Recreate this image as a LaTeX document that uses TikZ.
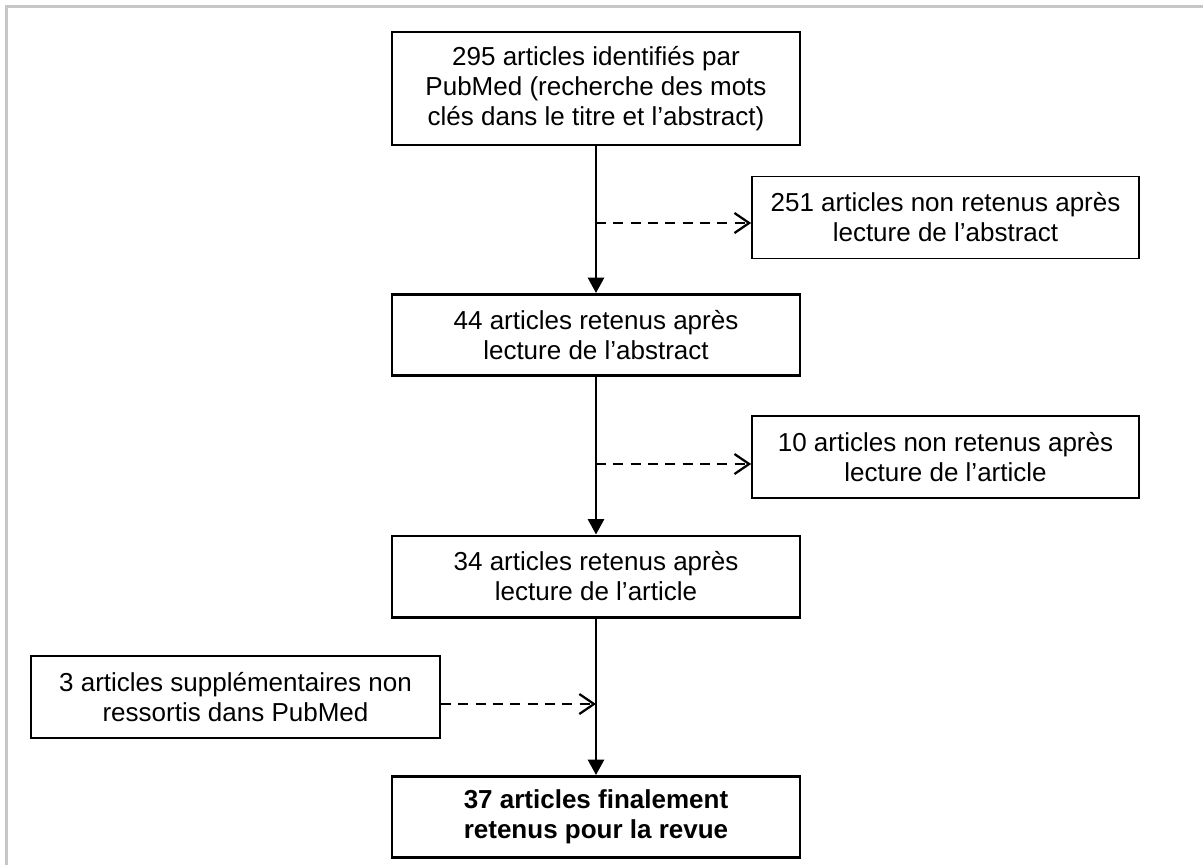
\documentclass[tikz,border=0pt]{standalone}
\usepackage{fontspec}
\setmainfont{Liberation Sans}
\usetikzlibrary{arrows.meta}

\tikzset{
  box/.style={draw=black, align=center, inner sep=0pt, fill=white,
    font=\fontsize{19.5pt}{22.5pt}\selectfont},
  mainbox/.style={box, line width=2pt, minimum width=306pt, minimum height=61pt},
  sidebox/.style={box, line width=1.3pt, minimum width=290.25pt, minimum height=61.5pt},
  flow/.style={line width=1.9pt, -{Triangle[length=11.5pt, width=12pt]}},
  sideflow/.style={line width=1.9pt, dash pattern=on 7.5pt off 5.5pt,
    -{Straight Barb[length=11pt, width=15pt, line width=1.7pt]}},
  frame/.style={draw=black!22, line width=1.8pt}
}

\begin{document}
\begin{tikzpicture}[x=0.75pt, y=-0.75pt]
  % page extent and outer frame
  \useasboundingbox (0,0) rectangle (1203,865);
  \draw[frame] (1203,6.5) -- (6.5,6.5) -- (6.5,865);

  % main column
  \node[mainbox, minimum height=84.75pt] (b1) at (596,88.5)
    {295 articles identifiés par\\PubMed (recherche des mots\\clés dans le titre et l’abstract)};
  \node[mainbox] (b3) at (596,335)
    {44 articles retenus après\\lecture de l’abstract};
  \node[mainbox] (b5) at (596,576.5)
    {34 articles retenus après\\lecture de l’article};
  \node[mainbox] (b7) at (596,817)
    {\bfseries 37 articles finalement\\\bfseries retenus pour la revue};

  % side boxes
  \node[sidebox] (b2) at (945.5,217.5)
    {251 articles non retenus après\\lecture de l’abstract};
  \node[sidebox] (b4) at (945.5,457)
    {10 articles non retenus après\\lecture de l’article};
  \node[sidebox, minimum width=306.75pt] (b6) at (235.5,697)
    {3 articles supplémentaires non\\ressortis dans PubMed};

  % junctions on the main line
  \coordinate (j1) at (596,223);
  \coordinate (j2) at (596,464);
  \coordinate (j3) at (596,704);

  % connectors
  \draw[flow] (b1.south) -- (b3.north);
  \draw[flow] (b3.south) -- (b5.north);
  \draw[flow] (b5.south) -- (b7.north);
  \draw[sideflow] (j1) -- (j1 -| b2.west);
  \draw[sideflow] (j2) -- (j2 -| b4.west);
  \draw[sideflow] (j3 -| b6.east) -- (j3);
\end{tikzpicture}
\end{document}
